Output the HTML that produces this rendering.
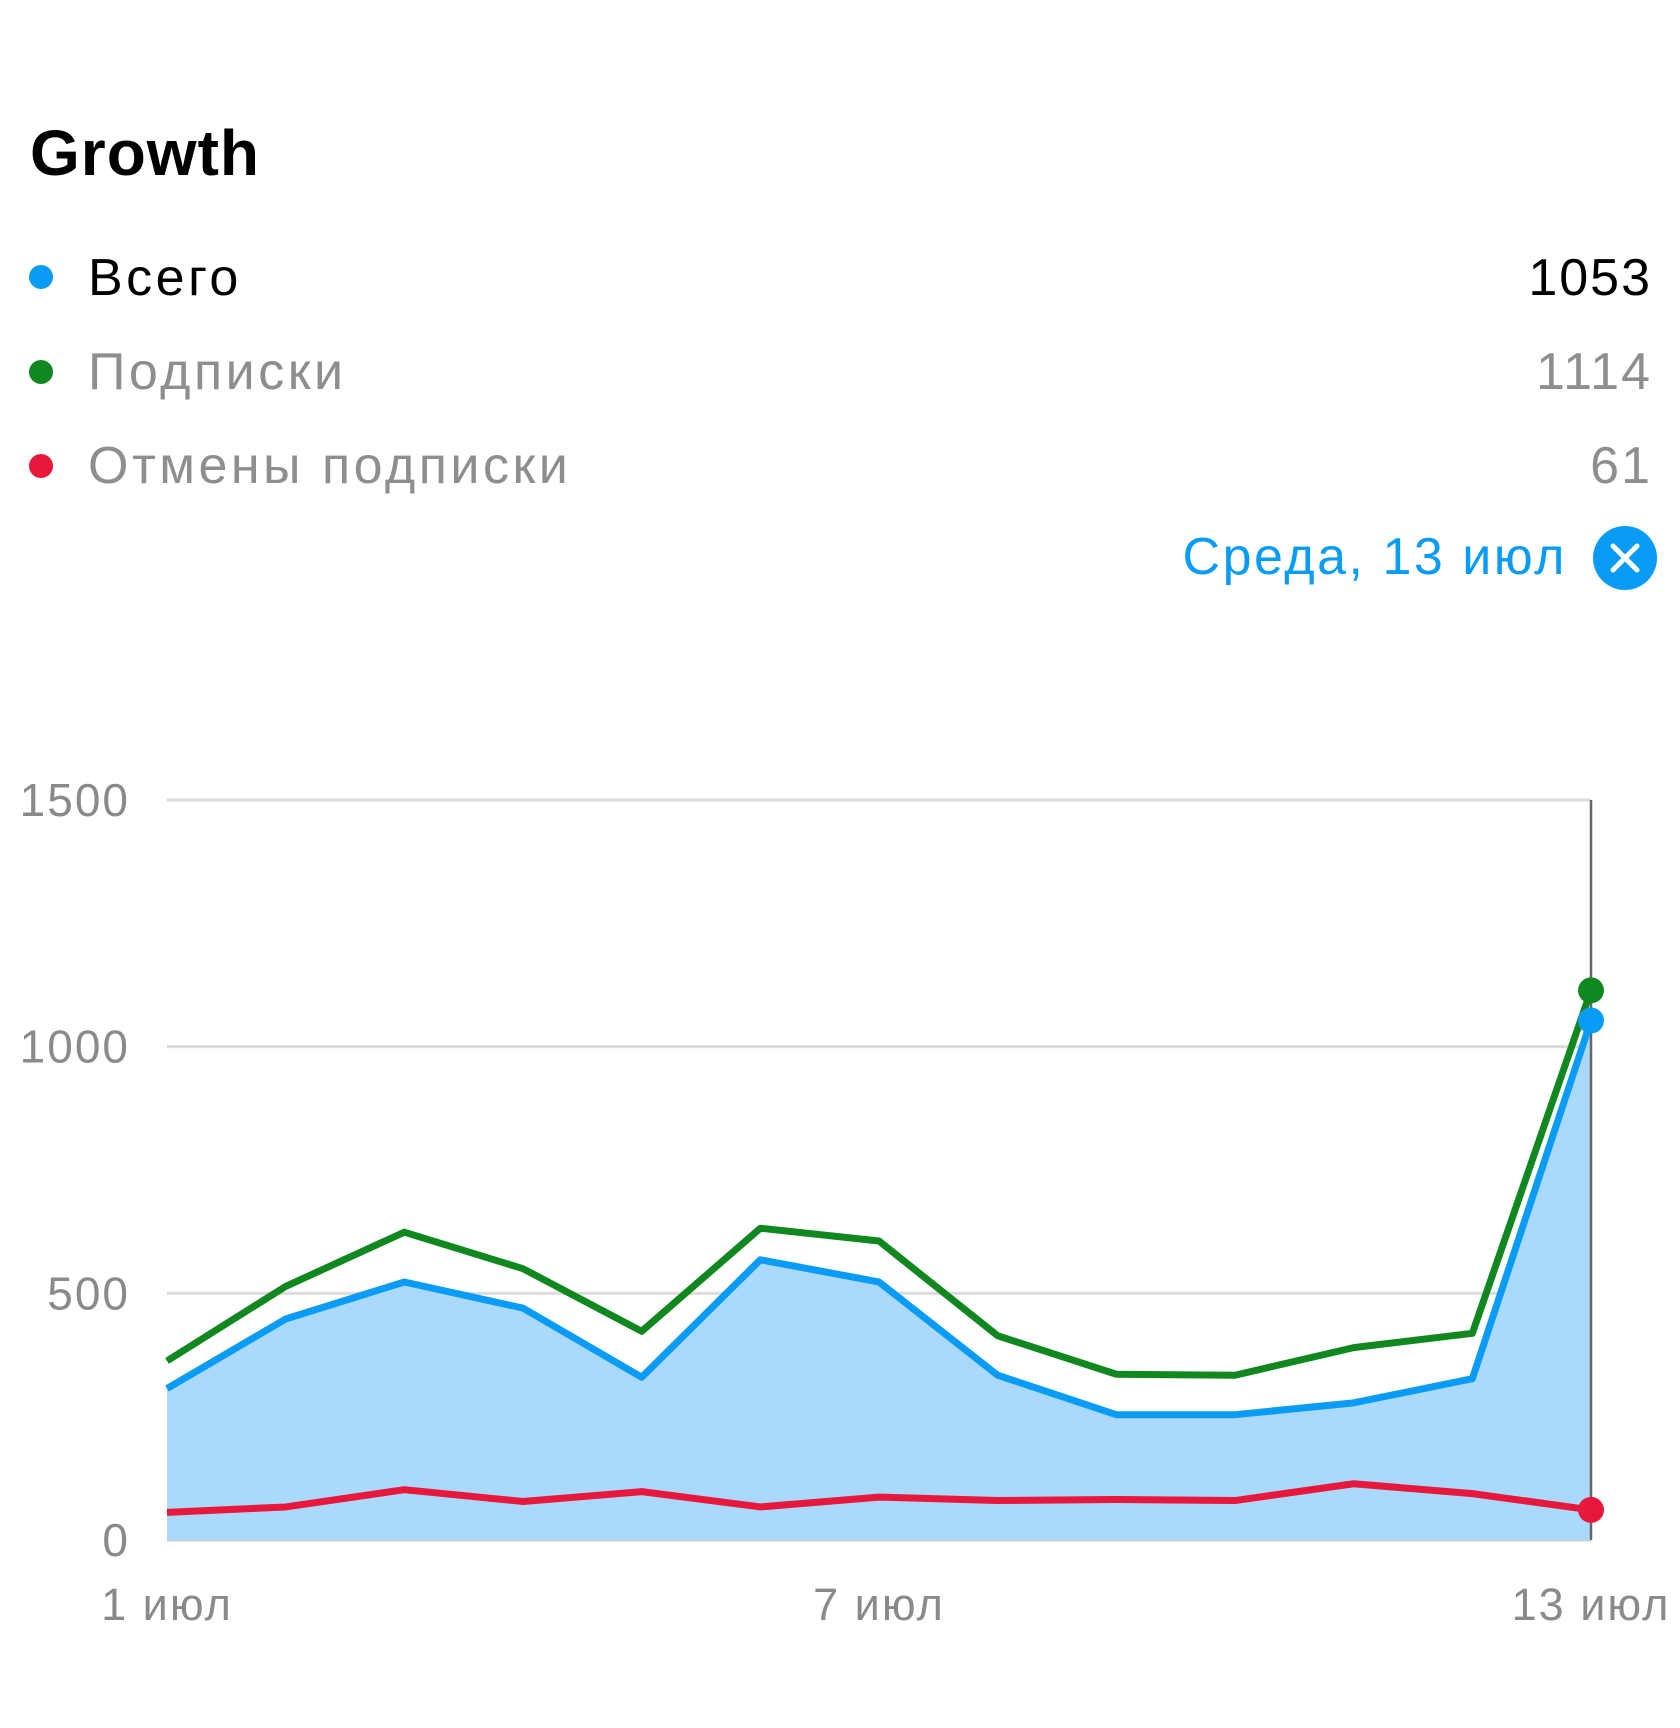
<!DOCTYPE html>
<html><head><meta charset="utf-8"><style>
html,body{margin:0;padding:0;background:#fff;width:1680px;height:1728px;overflow:hidden;font-family:"Liberation Sans",sans-serif}
</style></head><body>
<svg width="1680" height="1728" viewBox="0 0 1680 1728" xmlns="http://www.w3.org/2000/svg">
<text x="30" y="175" font-size="64" font-weight="bold" fill="#000" letter-spacing="1" font-family="Liberation Sans, sans-serif">Growth</text>
<g>
<circle cx="41" cy="277" r="12" fill="#0a9cf5"/>
<text x="88" y="295" font-size="52" letter-spacing="3.5" fill="#000">Всего</text>
<text x="1652" y="295" font-size="52" letter-spacing="2" fill="#000" text-anchor="end">1053</text>
</g>
<g>
<circle cx="41" cy="372" r="12" fill="#11881f"/>
<text x="88" y="389" font-size="52" letter-spacing="3.5" fill="#8e8e8e">Подписки</text>
<text x="1652" y="389" font-size="52" letter-spacing="2" fill="#8e8e8e" text-anchor="end">1114</text>
</g>
<g>
<circle cx="41" cy="466" r="12" fill="#e8173c"/>
<text x="88" y="483" font-size="52" letter-spacing="3.5" fill="#8e8e8e">Отмены подписки</text>
<text x="1652" y="483" font-size="52" letter-spacing="2" fill="#8e8e8e" text-anchor="end">61</text>
</g>
<text x="1567" y="574" font-size="52" letter-spacing="2.5" fill="#0a9cf5" text-anchor="end">Среда, 13 июл</text>
<g>
<circle cx="1625" cy="558" r="32" fill="#0a9cf5"/>
<path d="M1613 546 L1637 570 M1637 546 L1613 570" stroke="#fff" stroke-width="5" stroke-linecap="round"/>
</g>
<g id="grid"></g>
<g id="plot"></g>
<g id="xlab"></g>
</svg>
<script>
const categories = ["1 июл","2 июл","3 июл","4 июл","5 июл","6 июл","7 июл","8 июл","9 июл","10 июл","11 июл","12 июл","13 июл"];
const totalValues = [307,448,523,470,330,568,523,334,254,254,278,327,1053];
const subsValues = [363,514,624,550,423,632,606,414,336,334,390,419,1114];
const unsubValues = [56,67,102,78,98,67,87,80,82,80,114,94,61];
const yTicks = [0,500,1000,1500];
const xTickLabels = ["1 июл","7 июл","13 июл"];
const xTickIndex = [0,6,12];

const NS="http://www.w3.org/2000/svg";
const X0=167,X1=1591,Y0=1540,Y1=800,YMAX=1500;
function xs(i){return X0+(X1-X0)*i/(categories.length-1);}
function ys(v){return Y0-(Y0-Y1)*v/YMAX;}
function mk(tag,attrs,parent){const e=document.createElementNS(NS,tag);for(const k in attrs)e.setAttribute(k,attrs[k]);parent.appendChild(e);return e;}
const grid=document.getElementById('grid'),plot=document.getElementById('plot'),xlab=document.getElementById('xlab');
yTicks.forEach(t=>{
  const l=mk('line',{x1:X0,x2:X1,y1:ys(t),y2:ys(t),stroke:t===0?'#d0d0d0':'#dcdcdc','stroke-width':3},grid);
  
  
  const tx=mk('text',{x:130,y:ys(t)+16,'font-size':46,'letter-spacing':2,fill:'#8a8a8a','text-anchor':'end'},grid);
  tx.textContent=t;
  
  
});
let d='M'+xs(0)+' '+ys(0);
totalValues.forEach((v,i)=>{d+=' L'+xs(i)+' '+ys(v);});
d+=' L'+xs(totalValues.length-1)+' '+ys(0)+' Z';
const area=mk('path',{d:d,fill:'#aad9fc'},plot);


const vl=mk('line',{x1:X1,x2:X1,y1:Y1,y2:Y0,stroke:'#666','stroke-width':2.5},plot);


function line(vals,color,name){
  const p=mk('polyline',{points:vals.map((v,i)=>xs(i)+','+ys(v)).join(' '),fill:'none',stroke:color,'stroke-width':7,'stroke-linejoin':'round'},plot);
  
  
}
line(subsValues,'#11881f','subscriptions');
line(totalValues,'#0a9cf5','total');
line(unsubValues,'#e8173c','unsubscriptions');
[[subsValues,'#11881f','subscriptions'],[totalValues,'#0a9cf5','total'],[unsubValues,'#e8173c','unsubscriptions']].forEach(s=>{
  const n=s[0].length-1;
  const c=mk('circle',{cx:xs(n),cy:ys(s[0][n]),r:13,fill:s[1]},plot);
  
  
});
xTickLabels.forEach((t,k)=>{
  const tx=mk('text',{x:xs(xTickIndex[k]),y:1620,'font-size':45,'letter-spacing':2,fill:'#8a8a8a','text-anchor':'middle'},xlab);
  tx.textContent=t;
  
  
});
</script>
</body></html>
